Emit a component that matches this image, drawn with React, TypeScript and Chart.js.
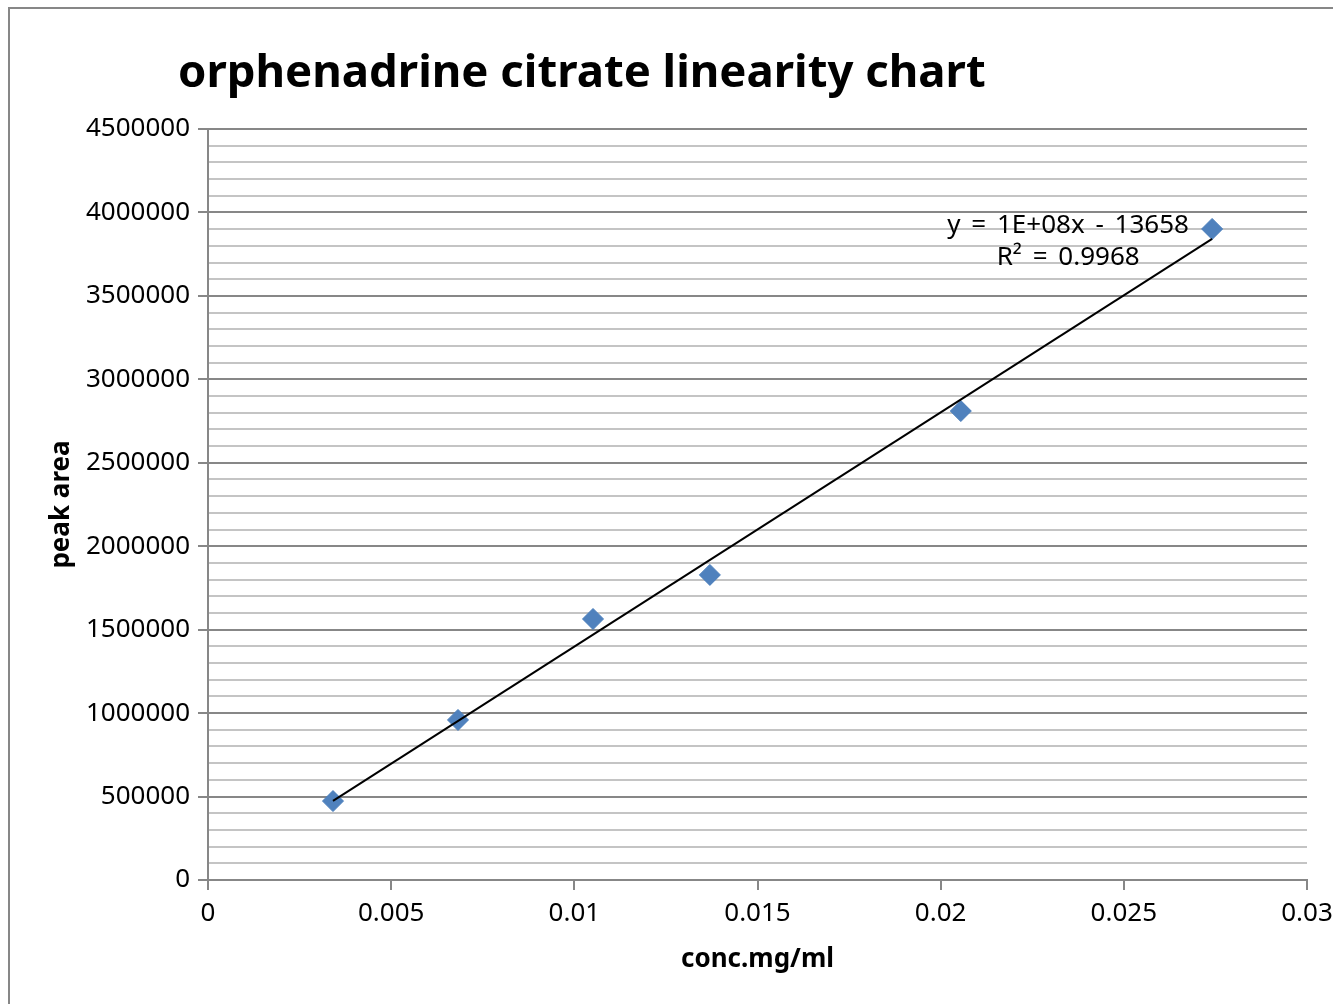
import React, { useEffect, useRef } from "react";
import { Chart, registerables } from "chart.js";

Chart.register(...registerables);

const chartTitle = "orphenadrine citrate linearity chart";
const xAxisTitle = "conc.mg/ml";
const yAxisTitle = "peak area";
const concentrations = [0.003412, 0.006824, 0.01051, 0.0137, 0.02055, 0.02741];
const peakAreas = [473000, 959000, 1564000, 1828000, 2810000, 3901000];
const equationLabel = "y = 1E+08x - 13658";
const r2Label = "R² = 0.9968";
const xTicks = [0, 0.005, 0.01, 0.015, 0.02, 0.025, 0.03];

const FONT = "'Noto Sans', 'Open Sans', sans-serif";

function regression(xs: number[], ys: number[]) {
  const n = xs.length;
  const mx = xs.reduce((a, b) => a + b, 0) / n;
  const my = ys.reduce((a, b) => a + b, 0) / n;
  let sxy = 0;
  let sxx = 0;
  for (let i = 0; i < n; i++) {
    sxy += (xs[i] - mx) * (ys[i] - my);
    sxx += (xs[i] - mx) * (xs[i] - mx);
  }
  const slope = sxy / sxx;
  return { slope, intercept: my - slope * mx };
}

export default function App() {
  const ref = useRef<HTMLCanvasElement | null>(null);

  useEffect(() => {
    document.body.style.margin = "0";
    const canvas = ref.current;
    if (!canvas) return;

    const { slope, intercept } = regression(concentrations, peakAreas);
    const xMin = Math.min(...concentrations);
    const xMax = Math.max(...concentrations);
    const trend = [
      { x: xMin, y: slope * xMin + intercept },
      { x: xMax, y: slope * xMax + intercept },
    ];

    const decor = {
      id: "decor",
      beforeDraw(chart: any) {
        const ctx = chart.ctx;
        ctx.save();
        ctx.fillStyle = "#ffffff";
        ctx.fillRect(0, 0, chart.width, chart.height);
        ctx.strokeStyle = "#878787";
        ctx.lineWidth = 2;
        ctx.strokeRect(9, 8, chart.width + 20, chart.height + 20);
        ctx.restore();
      },
      afterDraw(chart: any) {
        const ctx = chart.ctx;
        ctx.save();
        ctx.fillStyle = "#000000";
        ctx.font = `bold 45.5px ${FONT}`;
        ctx.textBaseline = "alphabetic";
        ctx.textAlign = "left";
        ctx.fillText(chartTitle, 178, 87);

        const xs = chart.scales.x;
        const ys = chart.scales.y;
        const cx = xs.getPixelForValue(0.02348);
        const cy = ys.getPixelForValue(3825000);
        ctx.font = `26px ${FONT}`;
        (ctx as any).wordSpacing = "4px";
        ctx.textAlign = "center";
        ctx.textBaseline = "middle";
        ctx.fillText(equationLabel, cx, cy - 16);
        ctx.fillText(r2Label, cx, cy + 16);
        ctx.restore();
      },
    };

    const chart = new Chart(canvas, {
      type: "scatter",
      data: {
        datasets: [
          {
            label: "trend",
            data: trend,
            showLine: true,
            borderColor: "#000000",
            borderWidth: 2,
            pointRadius: 0,
            order: 0,
          },
          {
            label: "peak area",
            data: concentrations.map((c, i) => ({ x: c, y: peakAreas[i] })),
            pointStyle: "rectRot",
            pointRadius: 10.5,
            backgroundColor: "#4F81BD",
            borderColor: "#4A7EBB",
            borderWidth: 1,
            order: 1,
          },
        ],
      },
      plugins: [decor],
      options: {
        responsive: false,
        animation: false,
        layout: { padding: { top: 129, right: 26, left: 0, bottom: 0 } },
        plugins: {
          legend: { display: false },
          tooltip: { enabled: false },
          title: { display: false },
        },
        scales: {
          x: {
            type: "linear",
            min: 0,
            max: 0.03,
            afterFit(scale: any) {
              scale.height = 124;
              scale.paddingLeft = 0;
              scale.paddingRight = 0;
            },
            afterBuildTicks(scale: any) {
              scale.ticks = xTicks.map((v) => ({ value: v }));
            },
            border: { display: true, color: "#878787", width: 2 },
            grid: {
              drawOnChartArea: false,
              drawTicks: true,
              tickLength: 10,
              tickColor: "#878787",
              lineWidth: 2,
            },
            ticks: {
              padding: 8,
              color: "#000000",
              font: { family: FONT, size: 26 },
              maxRotation: 0,
              callback: (v: any) => String(Number(v)),
            },
            title: {
              display: true,
              text: xAxisTitle,
              color: "#000000",
              font: { family: FONT, size: 26, weight: "bold" },
              padding: { top: 0, bottom: 29 },
            },
          },
          y: {
            type: "linear",
            min: 0,
            max: 4500000,
            afterFit(scale: any) {
              scale.width = 208;
              scale.paddingTop = 0;
              scale.paddingBottom = 0;
            },
            border: { display: true, color: "#878787", width: 2 },
            grid: {
              drawTicks: true,
              tickLength: 10,
              color: (c: any) =>
                c.tick && c.tick.value % 500000 === 0 ? "#878787" : "#c4c4c4",
              tickColor: (c: any) =>
                c.tick && c.tick.value % 500000 === 0 ? "#878787" : "rgba(0,0,0,0)",
              lineWidth: 2,
            },
            ticks: {
              stepSize: 100000,
              autoSkip: false,
              padding: 8,
              color: "#000000",
              font: { family: FONT, size: 26 },
              callback: (v: any) => (Number(v) % 500000 === 0 ? String(v) : ""),
            },
            title: {
              display: true,
              text: yAxisTitle,
              color: "#000000",
              font: { family: FONT, size: 26, weight: "bold" },
              padding: { top: 46, bottom: 0 },
            },
          },
        },
      },
    } as any);

    return () => chart.destroy();
  }, []);

  return <canvas ref={ref} width={1333} height={1004} style={{ display: "block" }} />;
}
